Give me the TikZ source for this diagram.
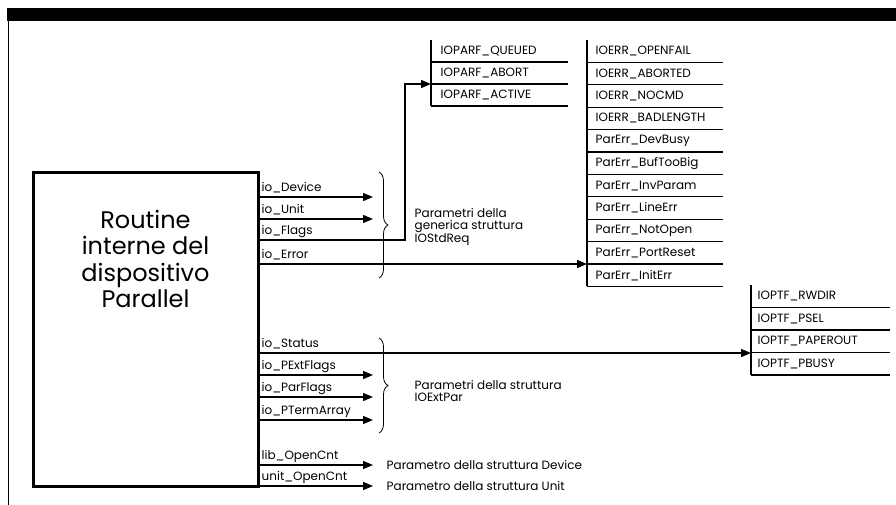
\documentclass[tikz,border=0pt]{standalone}
\usepackage{fontspec}
\setmainfont{Poppins}
\usetikzlibrary{arrows.meta,decorations.pathreplacing}

\begin{document}
\begin{tikzpicture}
            [x=1pt, y=-1pt, line width=1.4pt,
             arr/.style={-{Triangle[length=10pt,width=8pt]}},
             lbl/.style={anchor=base west, inner sep=0pt, font=\fontsize{12}{12}\selectfont},
             item/.style={anchor=west, inner sep=0pt, font=\fontsize{12}{12}\selectfont},
             brc/.style={decorate, decoration={brace, amplitude=9pt}, line width=0.8pt}]
            \useasboundingbox (0,0) rectangle (896,505);
            \fill (7,8) rectangle (896,21);
            \draw (8.5,21) -- (8.5,505);
            % routine box
            \node [draw, line width=3pt, minimum width=225pt, minimum height=313pt, inner sep=0pt] (routine) at (145.5,329.5) {};
            \node [align=center, font=\fontsize{24}{26.5}\selectfont] (routinetxt) at (145.5,259) {Routine\\interne del\\dispositivo\\Parallel};
            % fields
            \foreach \n/\y/\t in {dev/197/io\_Device, unit/219/io\_Unit, flags/240/io\_Flags, err/264/io\_Error,
                                  status/353/io\_Status, pext/375/io\_PExtFlags, parf/397/io\_ParFlags, pterm/420/io\_PTermArray,
                                  lib/465/lib\_OpenCnt, ucnt/486/unit\_OpenCnt}
                {
                \coordinate (\n) at (258,\y);
                \node [lbl] (l\n) at ([shift={(3,-6)}]\n) {\t};
                }
            \foreach \n/\y in {dev/197, unit/219, pext/375, parf/397, pterm/420, lib/465, ucnt/486}
                \coordinate (\n end) at (373,\y);
            \foreach \n in {dev, unit, pext, parf, pterm, lib, ucnt}
                \draw [arr] (\n) -- (\n end);
            \coordinate (flagsbend) at (405,240);
            \coordinate (parfin) at (431,84);
            \coordinate (errin) at (587,264);
            \coordinate (ptfin) at (751,353);
            \draw [arr] (flags) -- (flagsbend) |- (parfin);
            \draw [arr] (err) -- (errin);
            \draw [arr] (status) -- (ptfin);
            % braces
            \draw [brc] (379,172) -- (379,278);
            \draw [brc] (379,338) -- (379,433);
            \node [item, align=left] (stdreq) at (414,227) {Parametri della\\generica struttura\\IOStdReq};
            \node [item, align=left] (extpar) at (414,391) {Parametri della struttura\\IOExtPar};
            \node [item] (devpar) at (386,465) {Parametro della struttura Device};
            \node [item] (unitpar) at (386,486) {Parametro della struttura Unit};
            % flag lists
            \draw [line width=1.2pt] (431,40) -- (431,106);
            \foreach \t [count=\i] in {IOPARF\_QUEUED, IOPARF\_ABORT, IOPARF\_ACTIVE}
                {
                \node [item] (pf\i) at (440,{40+22*(\i-0.5)}) {\t};
                \draw [line width=1.2pt] (431,{40+22*\i}) -- (568,{40+22*\i});
                }
            \draw [line width=1.2pt] (587,40) -- (587,286.4);
            \foreach \t [count=\i] in {IOERR\_OPENFAIL, IOERR\_ABORTED, IOERR\_NOCMD, IOERR\_BADLENGTH,
                                       ParErr\_DevBusy, ParErr\_BufTooBig, ParErr\_InvParam, ParErr\_LineErr,
                                       ParErr\_NotOpen, ParErr\_PortReset, ParErr\_InitErr}
                {
                \node [item] (er\i) at (595,{40+22.4*(\i-0.5)}) {\t};
                \draw [line width=1.2pt] (587,{40+22.4*\i}) -- (723,{40+22.4*\i});
                }
            \draw [line width=1.2pt] (751,285) -- (751,375);
            \foreach \t [count=\i] in {IOPTF\_RWDIR, IOPTF\_PSEL, IOPTF\_PAPEROUT, IOPTF\_PBUSY}
                {
                \node [item] (pt\i) at (757,{285+22.5*(\i-0.5)}) {\t};
                \draw [line width=1.2pt] (751,{285+22.5*\i}) -- (890,{285+22.5*\i});
                }
\end{tikzpicture}
\end{document}
